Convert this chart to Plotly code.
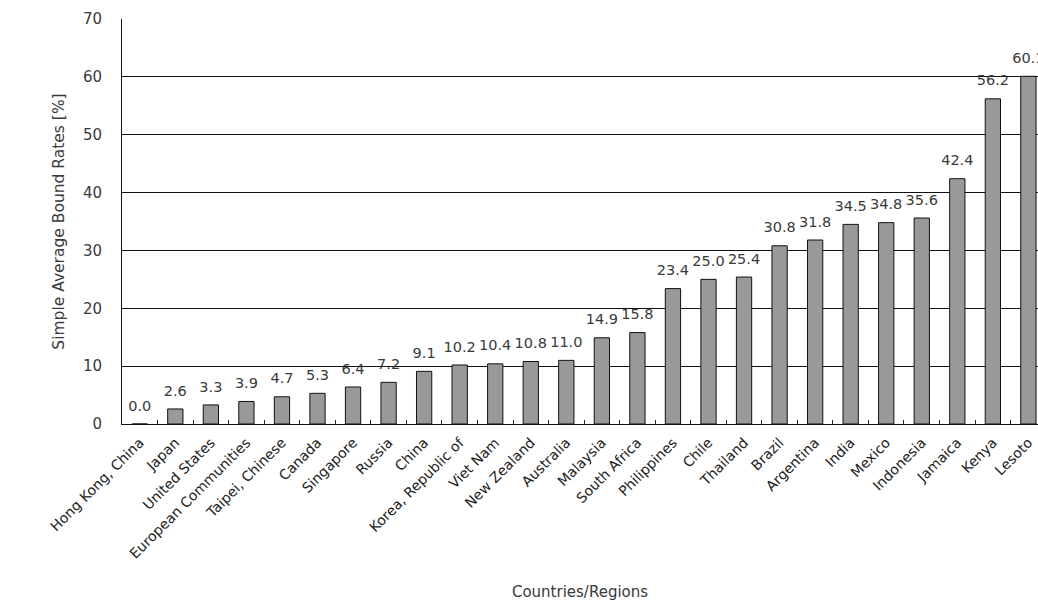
import plotly.graph_objects as go

countries = ["Hong Kong, China", "Japan", "United States", "European Communities",
             "Taipei, Chinese", "Canada", "Singapore", "Russia", "China",
             "Korea, Republic of", "Viet Nam", "New Zealand", "Australia", "Malaysia",
             "South Africa", "Philippines", "Chile", "Thailand", "Brazil", "Argentina",
             "India", "Mexico", "Indonesia", "Jamaica", "Kenya", "Lesoto"]
rates = [0.0, 2.6, 3.3, 3.9, 4.7, 5.3, 6.4, 7.2, 9.1, 10.2, 10.4, 10.8, 11.0, 14.9,
         15.8, 23.4, 25.0, 25.4, 30.8, 31.8, 34.5, 34.8, 35.6, 42.4, 56.2, 60.1]

font_family = "DejaVu Sans, sans-serif"
txt = "#3a3a3a"

fig = go.Figure()
fig.add_trace(go.Bar(
    x=countries, y=rates, width=0.43,
    marker=dict(color="#999999", line=dict(color="#111111", width=1)),
    showlegend=False, hoverinfo="skip",
))
fig.add_trace(go.Scatter(
    x=countries, y=rates, mode="markers+text",
    marker=dict(size=14, opacity=0),
    text=[f"{v:.1f}" for v in rates], textposition="top center",
    textfont=dict(size=14.5, color=txt, family=font_family),
    showlegend=False, hoverinfo="skip", cliponaxis=True,
))

fig.update_layout(
    width=1038, height=601,
    margin=dict(l=122, r=0, t=19, b=177),
    plot_bgcolor="white", paper_bgcolor="white",
    font=dict(family=font_family, color=txt, size=14),
)
fig.update_xaxes(
    range=[-0.5, 25.27], tickangle=-45, tickfont=dict(size=14, color="#222222"),
    ticks="inside", tickson="boundaries", ticklen=4, tickcolor="#222222",
    showline=True, linecolor="#111111", linewidth=1,
    showgrid=False, automargin=False, ticklabelstandoff=4,
    title=dict(text="Countries/Regions", font=dict(size=15, color=txt), standoff=48),
)
fig.update_yaxes(
    range=[0, 70], dtick=10, tickfont=dict(size=15, color=txt),
    showline=True, linecolor="#111111", linewidth=1,
    showgrid=True, gridcolor="#111111", gridwidth=1,
    ticks="", zeroline=False, automargin=False, ticklabelstandoff=16,
    title=dict(text="Simple Average Bound Rates [%]", font=dict(size=15.5, color=txt), standoff=14),
)

fig.write_html("out.html", config={"displayModeBar": False},
               post_script="document.body.style.margin='0';")
